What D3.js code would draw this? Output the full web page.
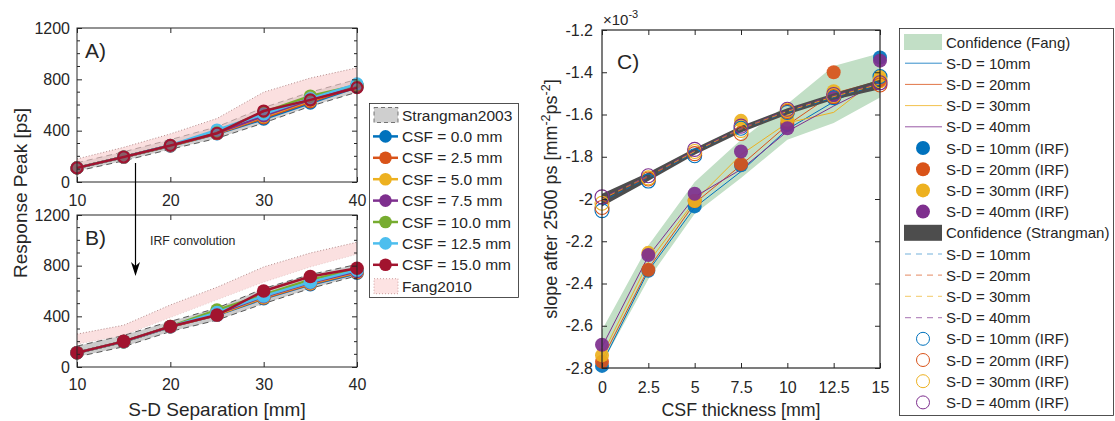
<!DOCTYPE html>
<html><head><meta charset="utf-8">
<script src="https://cdn.jsdelivr.net/npm/d3@7"></script>
<style>
body{margin:0;background:#fff}
text{font-family:"Liberation Sans",Arial,Helvetica,sans-serif;fill:#262626}
</style>
</head><body>
<svg id="c" width="1115" height="421"></svg>
<script>
// ---------------- DATA ----------------
const sdSep = [10,15,20,25,30,35,40];
const csfLabels = ["CSF = 0.0 mm","CSF = 2.5 mm","CSF = 5.0 mm","CSF = 7.5 mm","CSF = 10.0 mm","CSF = 12.5 mm","CSF = 15.0 mm"];
const csfColors = ["#0072BD","#D95319","#EDB120","#7E2F8E","#77AC30","#4DBEEE","#A2142F"];
// Panel A: response peak [ps] (no IRF)
const peakA = [
  [110,195,280,375,490,615,740],
  [110,195,282,378,500,625,745],
  [110,195,283,380,510,635,750],
  [110,195,284,382,515,640,752],
  [110,195,285,390,545,670,755],
  [110,195,286,405,530,650,765],
  [110,195,285,380,553,640,735]
];
const strangmanA_lo = [85,165,255,340,460,590,700];
const strangmanA_hi = [150,235,330,430,580,700,800];
const fangA_lo = [120,200,290,385,520,650,760];
const fangA_hi = [180,270,375,495,700,810,890];
// Panel B: response peak [ps] (IRF convolution)
const peakB = [
  [112,200,318,410,540,650,740],
  [112,200,318,412,545,655,745],
  [112,200,318,415,550,660,750],
  [112,200,318,420,555,665,755],
  [112,200,320,450,570,690,770],
  [112,200,318,430,560,670,765],
  [112,202,320,410,600,715,780]
];
const strangmanB_lo = [80,160,280,370,500,620,720];
const strangmanB_hi = [165,250,360,465,620,730,810];
const fangB_lo = [180,250,390,530,670,790,890];
const fangB_hi = [260,330,490,630,790,900,985];
const ticksSD = [10,20,30,40];
const ticksPeak = [0,400,800,1200];

// Panel C: slope after 2500 ps [x1e-3 mm^-2 ps^-2]
const csfThick = [0,2.5,5,7.5,10,12.5,15];
const sdLabels = ["S-D = 10mm","S-D = 20mm","S-D = 30mm","S-D = 40mm"];
const sdColors = ["#0072BD","#D95319","#EDB120","#7E2F8E"];
const fangBand_lo = [-2.78,-2.38,-2.07,-1.90,-1.72,-1.64,-1.52];
const fangBand_hi = [-2.62,-2.22,-1.92,-1.72,-1.55,-1.37,-1.31];
const fangLines = [
  [-2.78,-2.34,-2.04,-1.87,-1.67,-1.54,-1.43],
  [-2.76,-2.33,-2.02,-1.84,-1.65,-1.50,-1.44],
  [-2.74,-2.30,-2.01,-1.79,-1.64,-1.59,-1.42],
  [-2.70,-2.27,-1.99,-1.86,-1.68,-1.56,-1.45]
];
const fangIRF = [
  [-2.79,-2.34,-2.035,-1.84,-1.65,-1.52,-1.33],
  [-2.77,-2.335,-2.01,-1.835,-1.64,-1.40,-1.44],
  [-2.74,-2.255,-2.01,-1.63,-1.625,-1.49,-1.42],
  [-2.69,-2.265,-1.975,-1.775,-1.665,-1.52,-1.345]
];
const strBand_lo = [-2.035,-1.915,-1.79,-1.685,-1.60,-1.53,-1.48];
const strBand_hi = [-1.975,-1.875,-1.76,-1.655,-1.57,-1.50,-1.435];
const strLines = [
  [-2.01,-1.90,-1.78,-1.67,-1.59,-1.52,-1.46],
  [-2.00,-1.895,-1.775,-1.67,-1.585,-1.515,-1.455],
  [-2.00,-1.89,-1.775,-1.665,-1.585,-1.515,-1.455],
  [-1.995,-1.89,-1.77,-1.665,-1.58,-1.51,-1.45]
];
const strIRF = [
  [-2.055,-1.915,-1.795,-1.665,-1.59,-1.52,-1.42],
  [-2.04,-1.905,-1.785,-1.69,-1.585,-1.515,-1.46],
  [-2.02,-1.90,-1.775,-1.675,-1.58,-1.51,-1.44],
  [-1.99,-1.89,-1.765,-1.655,-1.575,-1.505,-1.45]
];
const ticksCSF = [0,2.5,5,7.5,10,12.5,15];
const ticksSlope = [-2.8,-2.6,-2.4,-2.2,-2,-1.8,-1.6,-1.4,-1.2];

// ---------------- DRAW ----------------
const svg = d3.select("#c");
const AX = "#262626";

function boxAxes(x, y, xTicks, yTicks, o) {
  const g = svg.append("g");
  const [x0,x1] = x.range(), [yb,yt] = y.range();
  g.append("g").attr("transform",`translate(0,${yb})`)
    .call(d3.axisBottom(x).tickValues(xTicks).tickSize(-5).tickSizeOuter(0).tickPadding(o.xPad).tickFormat(o.xFmt));
  g.append("g").attr("transform",`translate(0,${yt})`)
    .call(d3.axisTop(x).tickValues(xTicks).tickSize(-5).tickSizeOuter(0).tickFormat(""));
  g.append("g").attr("transform",`translate(${x0},0)`)
    .call(d3.axisLeft(y).tickValues(yTicks).tickSize(-5).tickSizeOuter(0).tickPadding(o.yPad).tickFormat(o.yFmt));
  g.append("g").attr("transform",`translate(${x1},0)`)
    .call(d3.axisRight(y).tickValues(yTicks).tickSize(-5).tickSizeOuter(0).tickFormat(""));
  g.selectAll(".domain").remove();
  g.selectAll(".tick line").attr("stroke",AX);
  g.selectAll(".tick text").attr("font-size",16).attr("fill",AX)
    .style("font-family",'"Liberation Sans",Arial,sans-serif');
  if (o.minor) {
    o.minor.forEach(v => {
      g.append("line").attr("x1",x0).attr("x2",x0+3).attr("y1",y(v)).attr("y2",y(v)).attr("stroke",AX);
      g.append("line").attr("x1",x1).attr("x2",x1-3).attr("y1",y(v)).attr("y2",y(v)).attr("stroke",AX);
    });
  }
  g.append("rect").attr("x",x0).attr("y",yt).attr("width",x1-x0).attr("height",yb-yt)
    .attr("fill","none").attr("stroke",AX).attr("stroke-width",o.bw||1);
  return g;
}

function band(x, y, xs, lo, hi) {
  return d3.area().x((d,i)=>x(xs[i])).y0((d,i)=>y(lo[i])).y1((d,i)=>y(hi[i]))(xs);
}
function edge(x, y, xs, v) {
  return d3.line().x((d,i)=>x(xs[i])).y((d,i)=>y(v[i]))(xs);
}

const xA = d3.scaleLinear([10,40],[77,357]);
const yA = d3.scaleLinear([0,1200],[182,28]);
const yB = d3.scaleLinear([0,1200],[367,215]);
const minorPeak = d3.range(100,1200,100).filter(v=>v%400!==0);

function peakPanel(y, data, sLo, sHi, fLo, fHi, washed) {
  const gb = svg.append("g");
  gb.append("path").attr("d",band(xA,y,sdSep,sLo,sHi)).attr("fill","#a9a9a9").attr("fill-opacity",washed?0.55:0.6);
  gb.append("path").attr("d",edge(xA,y,sdSep,sLo)).attr("fill","none").attr("stroke","#333").attr("stroke-dasharray","6,4").attr("stroke-width",0.8);
  gb.append("path").attr("d",edge(xA,y,sdSep,sHi)).attr("fill","none").attr("stroke","#333").attr("stroke-dasharray","6,4").attr("stroke-width",0.8);
  gb.append("path").attr("d",band(xA,y,sdSep,fLo,fHi)).attr("fill","#f9cccc").attr("fill-opacity",0.6);
  gb.append("path").attr("d",edge(xA,y,sdSep,fHi)).attr("fill","none").attr("stroke","#a07070").attr("stroke-dasharray","1,2").attr("stroke-width",0.8);
  gb.append("path").attr("d",edge(xA,y,sdSep,fLo)).attr("fill","none").attr("stroke","#c09090").attr("stroke-dasharray","1,2").attr("stroke-width",0.6).attr("stroke-opacity",0.6);
  const g = svg.append("g");
  data.forEach((s,k)=>{
    g.append("path").attr("d",edge(xA,y,sdSep,s)).attr("fill","none").attr("stroke",csfColors[k]).attr("stroke-width",2.5);
    g.selectAll(null).data(s).join("circle")
      .attr("cx",(d,i)=>xA(sdSep[i])).attr("cy",d=>y(d)).attr("r",washed?5.5:6.8)
      .attr("fill",csfColors[k]).attr("fill-opacity",washed?0.45:1)
      .attr("stroke",csfColors[k]).attr("stroke-width",washed?2.2:0);
  });
}
peakPanel(yA, peakA, strangmanA_lo, strangmanA_hi, fangA_lo, fangA_hi, true);
peakPanel(yB, peakB, strangmanB_lo, strangmanB_hi, fangB_lo, fangB_hi, false);
boxAxes(xA, yA, ticksSD, ticksPeak, {xPad:12.5, yPad:7, xFmt:d3.format("d"), yFmt:d3.format("d"), minor:minorPeak});
boxAxes(xA, yB, ticksSD, ticksPeak, {xPad:11.5, yPad:7, xFmt:d3.format("d"), yFmt:d3.format("d"), minor:minorPeak});

svg.append("text").attr("x",85).attr("y",58).attr("font-size",21).text("A)");
svg.append("text").attr("x",85).attr("y",245).attr("font-size",21).text("B)");
svg.append("text").attr("x",150).attr("y",245).attr("font-size",12.3).text("IRF convolution");
svg.append("text").attr("x",217).attr("y",416).attr("font-size",19).attr("text-anchor","middle").text("S-D Separation [mm]");
svg.append("text").attr("transform","translate(27,193) rotate(-90)").attr("font-size",19).attr("text-anchor","middle").text("Response Peak [ps]");
// arrow
svg.append("line").attr("x1",135.5).attr("x2",135.5).attr("y1",163).attr("y2",270).attr("stroke","#000").attr("stroke-width",1.2);
svg.append("path").attr("d","M131,262 L135.5,276 L140,262 L135.5,266 Z").attr("fill","#000");

// left legend
const lgL = svg.append("g");
lgL.append("rect").attr("x",369.5).attr("y",103.5).attr("width",149).attr("height",194).attr("fill","#fff").attr("stroke","#262626").attr("stroke-width",0.8);
const lyL = i => 115 + 21.4*i;
lgL.append("rect").attr("x",374).attr("y",lyL(0)-7.5).attr("width",24).attr("height",15).attr("fill","#cfcfcf").attr("stroke","#555").attr("stroke-dasharray","4,3").attr("stroke-width",0.8);
lgL.append("text").attr("x",402).attr("y",lyL(0)+5.5).attr("font-size",15.5).text("Strangman2003");
csfLabels.forEach((t,k)=>{
  const yy = lyL(k+1);
  lgL.append("line").attr("x1",373).attr("x2",398).attr("y1",yy).attr("y2",yy).attr("stroke",csfColors[k]).attr("stroke-width",2.5);
  lgL.append("circle").attr("cx",385.5).attr("cy",yy).attr("r",6.3).attr("fill",csfColors[k]);
  lgL.append("text").attr("x",402).attr("y",yy+5.5).attr("font-size",15.5).text(t);
});
lgL.append("rect").attr("x",374).attr("y",lyL(8)-7.5).attr("width",24).attr("height",15).attr("fill","#fde3e3").attr("stroke","#c08a8a").attr("stroke-dasharray","1,2").attr("stroke-width",0.8);
lgL.append("text").attr("x",402).attr("y",lyL(8)+5.5).attr("font-size",15.5).text("Fang2010");

// ---------------- Panel C ----------------
const xC = d3.scaleLinear([0,15],[602,880]);
const yC = d3.scaleLinear([-2.8,-1.2],[368,30]);
const gC = svg.append("g");
gC.append("path").attr("d",band(xC,yC,csfThick,fangBand_lo,fangBand_hi)).attr("fill","#c2dfc6");
fangLines.forEach((s,k)=>{
  gC.append("path").attr("d",edge(xC,yC,csfThick,s)).attr("fill","none").attr("stroke",sdColors[k]).attr("stroke-width",1);
});
fangIRF.forEach((s,k)=>{
  gC.selectAll(null).data(s).join("circle").attr("cx",(d,i)=>xC(csfThick[i])).attr("cy",d=>yC(d)).attr("r",7)
    .attr("fill",sdColors[k]).attr("fill-opacity",0.92);
});
gC.append("path").attr("d",band(xC,yC,csfThick,strBand_lo,strBand_hi)).attr("fill","#4d4d4d");
strLines.forEach((s,k)=>{
  gC.append("path").attr("d",edge(xC,yC,csfThick,s)).attr("fill","none").attr("stroke",sdColors[k]).attr("stroke-width",1).attr("stroke-dasharray","5,4").attr("stroke-opacity",0.8);
});
strIRF.forEach((s,k)=>{
  gC.selectAll(null).data(s).join("circle").attr("cx",(d,i)=>xC(csfThick[i])).attr("cy",d=>yC(d)).attr("r",7)
    .attr("fill","none").attr("stroke",sdColors[k]).attr("stroke-width",1.1);
});
boxAxes(xC, yC, ticksCSF, ticksSlope, {xPad:13.5, yPad:9, xFmt:d=>String(d), yFmt:d=>String(+d.toFixed(1)), bw:1.2});
svg.append("text").attr("x",617).attr("y",69).attr("font-size",21).text("C)");
svg.append("text").attr("x",741).attr("y",416).attr("font-size",17.8).attr("text-anchor","middle").text("CSF thickness [mm]");
const yl = svg.append("text").attr("transform","translate(557,199) rotate(-90)").attr("font-size",18).attr("text-anchor","middle");
yl.append("tspan").text("slope after 2500 ps [mm");
yl.append("tspan").attr("dy",-7.5).attr("font-size",12.5).text("-2");
yl.append("tspan").attr("dy",7.5).text("ps");
yl.append("tspan").attr("dy",-7.5).attr("font-size",12.5).text("-2");
yl.append("tspan").attr("dy",7.5).text("]");
const ex = svg.append("text").attr("x",603).attr("y",25).attr("font-size",15);
ex.append("tspan").text("×10");
ex.append("tspan").attr("dy",-7).attr("font-size",11).text("-3");

// right legend
const lgR = svg.append("g");
lgR.append("rect").attr("x",899.5).attr("y",28.5).attr("width",214).attr("height",387).attr("fill","#fff").attr("stroke","#262626").attr("stroke-width",0.8);
const lyR = i => 42 + 21.2*i;
const items = [];
items.push({t:"Confidence (Fang)", type:"patch", c:"#c2dfc6"});
sdLabels.forEach((t,k)=>items.push({t, type:"line", c:sdColors[k]}));
sdLabels.forEach((t,k)=>items.push({t:t+" (IRF)", type:"dot", c:sdColors[k]}));
items.push({t:"Confidence (Strangman)", type:"patch", c:"#4d4d4d"});
sdLabels.forEach((t,k)=>items.push({t, type:"dash", c:sdColors[k]}));
sdLabels.forEach((t,k)=>items.push({t:t+" (IRF)", type:"open", c:sdColors[k]}));
items.forEach((it,i)=>{
  const yy = lyR(i);
  if (it.type==="patch") lgR.append("rect").attr("x",904).attr("y",yy-8).attr("width",38).attr("height",16).attr("fill",it.c);
  if (it.type==="line") lgR.append("line").attr("x1",905).attr("x2",942).attr("y1",yy).attr("y2",yy).attr("stroke",it.c).attr("stroke-width",1).attr("stroke-opacity",0.8);
  if (it.type==="dash") lgR.append("line").attr("x1",905).attr("x2",942).attr("y1",yy).attr("y2",yy).attr("stroke",it.c).attr("stroke-width",1.2).attr("stroke-dasharray","6,5").attr("stroke-opacity",0.55);
  if (it.type==="dot") lgR.append("circle").attr("cx",923).attr("cy",yy).attr("r",7).attr("fill",it.c);
  if (it.type==="open") lgR.append("circle").attr("cx",923).attr("cy",yy).attr("r",6.5).attr("fill","none").attr("stroke",it.c).attr("stroke-width",1);
  lgR.append("text").attr("x",946).attr("y",yy+5.5).attr("font-size",15).text(it.t);
});
</script>
</body></html>
